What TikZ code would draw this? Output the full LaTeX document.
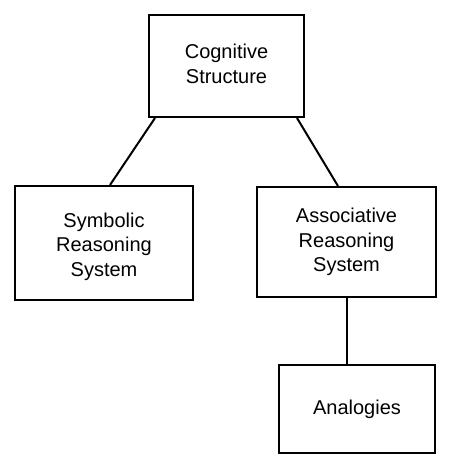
\documentclass[tikz,border=0pt]{standalone}
\usepackage{fontspec}
\setmainfont{Liberation Sans}
\begin{document}
\begin{tikzpicture}[x=0.75pt,y=-0.75pt,
  box/.style={draw=black, line width=1.5pt, fill=white, inner sep=0pt, align=center,
    font=\fontsize{15}{18.4}\selectfont},
  link/.style={draw=black, line width=1.5pt}]
\useasboundingbox (0,0) rectangle (450,470);
\node[box, minimum width=155*0.75pt, minimum height=102*0.75pt] (a) at (226.5,66) {Cognitive\\Structure\rule[-3pt]{0pt}{0pt}};
\node[box, minimum width=178*0.75pt, minimum height=114*0.75pt] (s) at (104,243) {\rule{0pt}{16pt}Symbolic\\Reasoning\\System};
\node[box, minimum width=179*0.75pt, minimum height=110*0.75pt] (r) at (346.5,242) {Associative\\Reasoning\\System};
\node[box, minimum width=156*0.75pt, minimum height=88*0.75pt] (n) at (357,409) {Analogies};
\draw[link] ([xshift=5.25pt]a.south west) -- ([xshift=4.5pt]s.north);
\draw[link] ([xshift=-6pt]a.south east) -- ([xshift=-6.4pt]r.north);
\draw[link] (r.south) -- (r.south |- n.north);
\end{tikzpicture}
\end{document}
